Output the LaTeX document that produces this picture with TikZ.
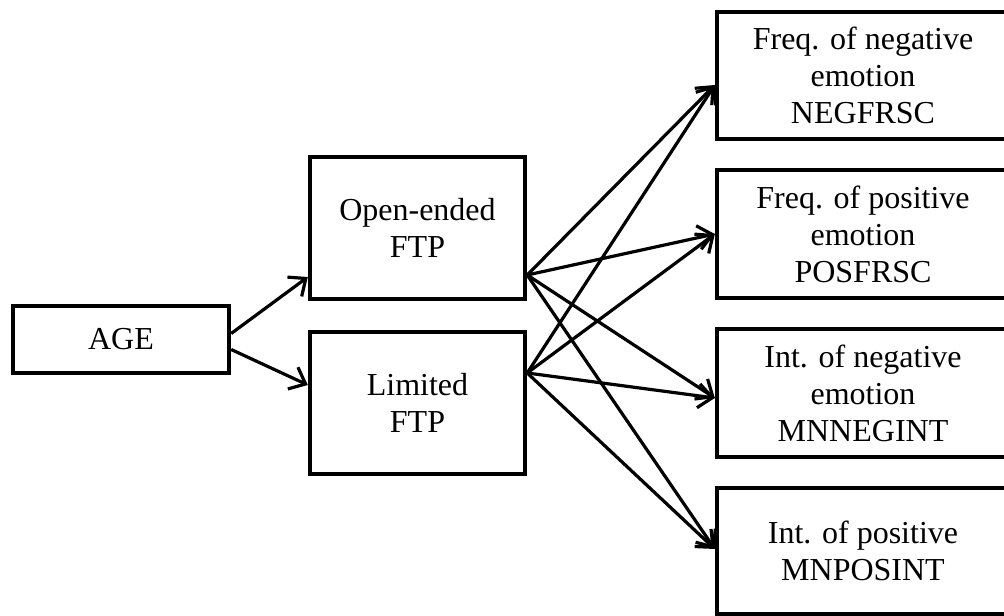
\documentclass[tikz,border=0pt]{standalone}
\usepackage{fontspec}
\setmainfont{Liberation Serif}
\usetikzlibrary{arrows.meta}

\tikzset{
  box/.style={draw, line width=2.2pt, align=center, inner sep=2pt,
    font=\fontsize{16}{18.5}\selectfont},
  outbox/.style={box, minimum width=146pt},
  link/.style={-{Straight Barb[length=7pt,width=12pt]}, line width=1.6pt},
}

\begin{document}
\begin{tikzpicture}[x=0.5pt, y=-0.5pt]
    \useasboundingbox (0,0) rectangle (1004,615);
    \node[box, minimum width=108pt, minimum height=33.5pt] (age) at (121,339.5) {AGE};
    \node[box, minimum width=107.5pt, minimum height=71pt] (open) at (417.5,228) {Open-ended\\FTP};
    \node[box, minimum width=107.5pt, minimum height=71pt] (lim) at (417.5,403) {Limited\\FTP};
    \node[outbox, minimum height=63.5pt] (negf) at (863,75.5) {Freq. of negative\\emotion\\NEGFRSC};
    \node[outbox, minimum height=64pt] (posf) at (863,234) {Freq. of positive\\emotion\\POSFRSC};
    \node[outbox, minimum height=64pt] (negi) at (863,393) {Int. of negative\\emotion\\MNNEGINT};
    \node[outbox, minimum height=63pt] (posi) at (863,551) {Int. of positive\\MNPOSINT};
    % age to the two FTP boxes
    \draw[link] ([yshift=3pt]age.east) -- ([yshift=-24.5pt]open.west);
    \draw[link] ([yshift=-5pt]age.east) -- ([yshift=9pt]lim.west);
    % open-ended FTP to the emotions
    \draw[link] ([yshift=-23.5pt]open.east) -- ([yshift=-4.75pt]negf.west);
    \draw[link] ([yshift=-23.5pt]open.east) -- (posf.west);
    \draw[link] ([yshift=-23.5pt]open.east) -- ([yshift=-2.5pt]negi.west);
    \draw[link] ([yshift=-23.5pt]open.east) -- ([yshift=1pt]posi.west);
    % limited FTP to the emotions
    \draw[link] ([yshift=15pt]lim.east) -- ([yshift=-4.75pt]negf.west);
    \draw[link] ([yshift=15pt]lim.east) -- (posf.west);
    \draw[link] ([yshift=15pt]lim.east) -- ([yshift=-2.5pt]negi.west);
    \draw[link] ([yshift=15pt]lim.east) -- ([yshift=1pt]posi.west);
\end{tikzpicture}
\end{document}
